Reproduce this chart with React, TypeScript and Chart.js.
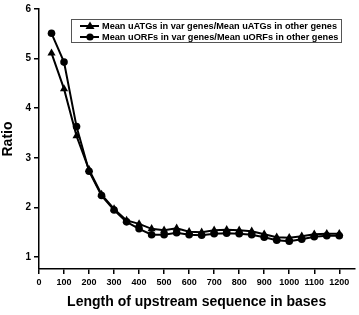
import React, { useEffect, useRef } from "react";
import { Chart, registerables } from "chart.js";

Chart.register(...registerables);

const lengths = [50, 100, 150, 200, 250, 300, 350, 400, 450, 500, 550, 600, 650, 700, 750, 800, 850, 900, 950, 1000, 1050, 1100, 1150, 1200];
const uatgRatio = [5.11, 4.39, 3.44, 2.76, 2.26, 1.97, 1.74, 1.67, 1.57, 1.54, 1.58, 1.51, 1.5, 1.54, 1.55, 1.54, 1.52, 1.46, 1.4, 1.39, 1.42, 1.46, 1.47, 1.47];
const uorfRatio = [5.51, 4.93, 3.63, 2.73, 2.24, 1.95, 1.71, 1.57, 1.45, 1.45, 1.49, 1.45, 1.44, 1.47, 1.48, 1.47, 1.45, 1.4, 1.34, 1.32, 1.36, 1.41, 1.43, 1.43];
const seriesLabels = [
  "Mean uATGs in var genes/Mean uATGs in other genes",
  "Mean uORFs in var genes/Mean uORFs in other genes",
];
const xTitle = "Length of upstream sequence in bases";
const yTitle = "Ratio";

const FONT = "'Liberation Sans', Arial, Helvetica, sans-serif";

const boxLegend = {
  id: "boxLegend",
  afterDraw(chart: any) {
    const ctx = chart.ctx;
    const left = 71.5, top = 19.5, right = 341.5, bottom = 42.5;
    ctx.save();
    ctx.fillStyle = "#fff";
    ctx.fillRect(left, top, right - left, bottom - top);
    ctx.strokeStyle = "#555";
    ctx.lineWidth = 1;
    ctx.strokeRect(left, top, right - left, bottom - top);
    const rows = [26, 37];
    chart.data.datasets.forEach((ds: any, i: number) => {
      const y = rows[i];
      ctx.strokeStyle = "#000";
      ctx.lineWidth = 2;
      ctx.beginPath();
      ctx.moveTo(80, y);
      ctx.lineTo(99, y);
      ctx.stroke();
      ctx.fillStyle = "#000";
      ctx.beginPath();
      if (ds.pointStyle === "triangle") {
        ctx.moveTo(90, y - 4.5);
        ctx.lineTo(94.5, y + 3);
        ctx.lineTo(85.5, y + 3);
        ctx.closePath();
      } else {
        ctx.arc(90, y, 3.6, 0, Math.PI * 2);
      }
      ctx.fill();
      ctx.font = `bold 9.2px ${FONT}`;
      ctx.textBaseline = "middle";
      ctx.textAlign = "left";
      ctx.fillText(ds.label, 102, y + 0.5);
    });
    ctx.restore();
  },
};

const whiteBg = {
  id: "whiteBg",
  beforeDraw(chart: any) {
    const ctx = chart.ctx;
    ctx.save();
    ctx.fillStyle = "#fff";
    ctx.fillRect(0, 0, chart.width, chart.height);
    ctx.restore();
  },
};

export default function App() {
  const ref = useRef<HTMLCanvasElement>(null);
  useEffect(() => {
    if (!ref.current) return;
    const chart = new Chart(ref.current, {
      type: "line",
      data: {
        datasets: [
          {
            label: seriesLabels[0],
            data: lengths.map((x, i) => ({ x, y: uatgRatio[i] })),
            borderColor: "#000",
            backgroundColor: "#000",
            borderWidth: 2,
            pointStyle: "triangle",
            pointRadius: 4.7,
            pointBorderWidth: 0,
            tension: 0,
          },
          {
            label: seriesLabels[1],
            data: lengths.map((x, i) => ({ x, y: uorfRatio[i] })),
            borderColor: "#000",
            backgroundColor: "#000",
            borderWidth: 2,
            pointStyle: "circle",
            pointRadius: 3.8,
            pointBorderWidth: 0,
            tension: 0,
          },
        ],
      },
      options: {
        responsive: false,
        animation: false,
        layout: { padding: { top: 8, right: 1, left: 0, bottom: 0 } },
        plugins: {
          legend: { display: false },
          tooltip: { enabled: false },
        },
        scales: {
          x: {
            type: "linear",
            min: 0,
            max: 1260,
            afterFit: (s: any) => {
              s.height = 46;
            },
            border: { display: true, color: "#000", width: 1.5 },
            grid: { drawOnChartArea: false, drawTicks: true, tickLength: 5, color: "#000", lineWidth: 1.5 },
            ticks: {
              stepSize: 100,
              includeBounds: false,
              color: "#000",
              padding: 3,
              maxRotation: 0,
              autoSkip: false,
              font: { family: FONT, size: 9, weight: "bold" },
              callback: (v: any) => (v <= 1200 ? String(v) : ""),
            },
            title: {
              display: true,
              text: xTitle,
              color: "#000",
              font: { family: FONT, size: 14, weight: "bold" },
              padding: { top: 4, bottom: 4 },
            },
          },
          y: {
            type: "linear",
            min: 0.76,
            max: 6,
            afterFit: (s: any) => {
              s.width = 39;
            },
            border: { display: true, color: "#000", width: 1.5 },
            grid: { drawOnChartArea: false, drawTicks: true, tickLength: 5, color: "#000", lineWidth: 1.5 },
            ticks: {
              stepSize: 1,
              includeBounds: false,
              color: "#000",
              padding: 3,
              font: { family: FONT, size: 10, weight: "bold" },
            },
            title: {
              display: true,
              text: yTitle,
              color: "#000",
              font: { family: FONT, size: 14, weight: "bold" },
              padding: { top: 0, bottom: 0 },
            },
          },
        },
      },
      plugins: [whiteBg, boxLegend],
    });
    return () => chart.destroy();
  }, []);
  return (
    <div style={{ position: "fixed", left: 0, top: 0, width: 359, height: 315, background: "#fff" }}>
      <canvas ref={ref} width={359} height={315} />
    </div>
  );
}
